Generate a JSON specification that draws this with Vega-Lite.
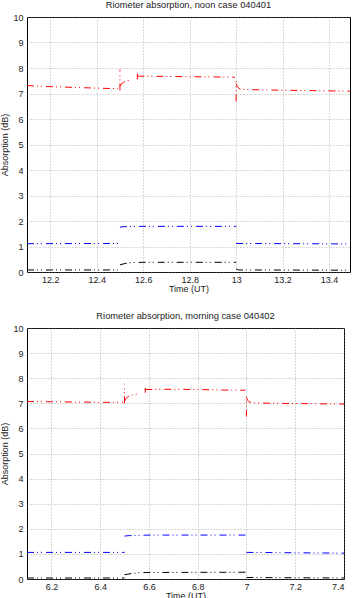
{
  "$schema": "https://vega.github.io/schema/vega-lite/v6.json",
  "padding": {"left": 0, "top": 0, "right": 0, "bottom": 0},
  "bounds": "flush",
  "spacing": 56,
  "background": "white",
  "config": {
    "font": "Liberation Sans",
    "view": {"stroke": "#000000", "strokeWidth": 1},
    "title": {"fontSize": 9.3, "fontWeight": "normal", "color": "#222222", "offset": 2.5},
    "axis": {
      "domain": false,
      "ticks": false,
      "tickSize": 0,
      "labelFontSize": 9,
      "labelColor": "#222222",
      "titleFontSize": 9,
      "titleFontWeight": "normal",
      "titleColor": "#222222",
      "grid": true,
      "gridColor": "#888888",
      "gridDash": [1, 2],
      "gridOpacity": 0.65,
      "labelPadding": 4
    },
    "axisX": {"titlePadding": 0, "labelPadding": 3},
    "axisY": {"titlePadding": 3}
  },
  "datasets": {
    "noon": [
      {"s": "r", "g": "r1", "t": 12.1, "v": 7.31},
      {"s": "r", "g": "r1", "t": 12.2, "v": 7.27},
      {"s": "r", "g": "r1", "t": 12.3, "v": 7.24},
      {"s": "r", "g": "r1", "t": 12.4, "v": 7.21},
      {"s": "r", "g": "r1", "t": 12.49, "v": 7.19},
      {"s": "r", "g": "r2", "t": 12.5, "v": 7.12},
      {"s": "r", "g": "r2", "t": 12.5, "v": 7.94},
      {"s": "r", "g": "r3", "t": 12.5, "v": 7.28},
      {"s": "r", "g": "r3", "t": 12.505, "v": 7.36},
      {"s": "r", "g": "r3", "t": 12.515, "v": 7.44},
      {"s": "r", "g": "r3", "t": 12.53, "v": 7.5},
      {"s": "r", "g": "r3", "t": 12.55, "v": 7.53},
      {"s": "r", "g": "r4", "t": 12.575, "v": 7.55},
      {"s": "r", "g": "r4", "t": 12.575, "v": 7.78},
      {"s": "r", "g": "r5", "t": 12.575, "v": 7.68},
      {"s": "r", "g": "r5", "t": 12.7, "v": 7.67},
      {"s": "r", "g": "r5", "t": 12.8, "v": 7.66},
      {"s": "r", "g": "r5", "t": 12.9, "v": 7.65},
      {"s": "r", "g": "r5", "t": 12.995, "v": 7.64},
      {"s": "r", "g": "r6", "t": 13.0, "v": 6.69},
      {"s": "r", "g": "r6", "t": 13.0, "v": 7.48},
      {"s": "r", "g": "r7", "t": 13.0, "v": 7.38},
      {"s": "r", "g": "r7", "t": 13.005, "v": 7.28},
      {"s": "r", "g": "r7", "t": 13.012, "v": 7.2},
      {"s": "r", "g": "r7", "t": 13.025, "v": 7.16},
      {"s": "r", "g": "r7", "t": 13.06, "v": 7.15},
      {"s": "r", "g": "r7", "t": 13.2, "v": 7.13},
      {"s": "r", "g": "r7", "t": 13.35, "v": 7.11},
      {"s": "r", "g": "r7", "t": 13.49, "v": 7.09},
      {"s": "b", "g": "b1", "t": 12.1, "v": 1.11},
      {"s": "b", "g": "b1", "t": 12.5, "v": 1.12},
      {"s": "b", "g": "b2", "t": 12.5, "v": 1.76},
      {"s": "b", "g": "b2", "t": 12.52, "v": 1.78},
      {"s": "b", "g": "b2", "t": 12.6, "v": 1.79},
      {"s": "b", "g": "b2", "t": 13.0, "v": 1.79},
      {"s": "b", "g": "b3", "t": 13.0, "v": 1.12},
      {"s": "b", "g": "b3", "t": 13.49, "v": 1.1},
      {"s": "k", "g": "k1", "t": 12.1, "v": 0.08},
      {"s": "k", "g": "k1", "t": 12.49, "v": 0.08},
      {"s": "k", "g": "k2", "t": 12.5, "v": 0.28},
      {"s": "k", "g": "k2", "t": 12.52, "v": 0.33},
      {"s": "k", "g": "k2", "t": 12.55, "v": 0.37},
      {"s": "k", "g": "k2", "t": 12.6, "v": 0.38},
      {"s": "k", "g": "k2", "t": 13.0, "v": 0.38},
      {"s": "k", "g": "k3", "t": 13.0, "v": 0.12},
      {"s": "k", "g": "k3", "t": 13.01, "v": 0.08},
      {"s": "k", "g": "k3", "t": 13.49, "v": 0.07}
    ],
    "morning": [
      {"s": "r", "g": "r1", "t": 6.1, "v": 7.07},
      {"s": "r", "g": "r1", "t": 6.2, "v": 7.06},
      {"s": "r", "g": "r1", "t": 6.3, "v": 7.05},
      {"s": "r", "g": "r1", "t": 6.4, "v": 7.04},
      {"s": "r", "g": "r1", "t": 6.495, "v": 7.04},
      {"s": "r", "g": "r2", "t": 6.5, "v": 7.0},
      {"s": "r", "g": "r2", "t": 6.5, "v": 7.78},
      {"s": "r", "g": "r3", "t": 6.5, "v": 7.08},
      {"s": "r", "g": "r3", "t": 6.505, "v": 7.18},
      {"s": "r", "g": "r3", "t": 6.515, "v": 7.27},
      {"s": "r", "g": "r3", "t": 6.53, "v": 7.33},
      {"s": "r", "g": "r3", "t": 6.56, "v": 7.38},
      {"s": "r", "g": "r4", "t": 6.585, "v": 7.42},
      {"s": "r", "g": "r4", "t": 6.585, "v": 7.62},
      {"s": "r", "g": "r5", "t": 6.585, "v": 7.55},
      {"s": "r", "g": "r5", "t": 6.7, "v": 7.56},
      {"s": "r", "g": "r5", "t": 6.8, "v": 7.55},
      {"s": "r", "g": "r5", "t": 6.9, "v": 7.53},
      {"s": "r", "g": "r5", "t": 6.995, "v": 7.52},
      {"s": "r", "g": "r6", "t": 7.0, "v": 6.47},
      {"s": "r", "g": "r6", "t": 7.0, "v": 7.27},
      {"s": "r", "g": "r7", "t": 7.0, "v": 7.22},
      {"s": "r", "g": "r7", "t": 7.005, "v": 7.12},
      {"s": "r", "g": "r7", "t": 7.012, "v": 7.05},
      {"s": "r", "g": "r7", "t": 7.03, "v": 7.02},
      {"s": "r", "g": "r7", "t": 7.1, "v": 7.0},
      {"s": "r", "g": "r7", "t": 7.2, "v": 6.99},
      {"s": "r", "g": "r7", "t": 7.3, "v": 6.98},
      {"s": "r", "g": "r7", "t": 7.4, "v": 6.97},
      {"s": "b", "g": "b1", "t": 6.1, "v": 1.06},
      {"s": "b", "g": "b1", "t": 6.5, "v": 1.06},
      {"s": "b", "g": "b2", "t": 6.5, "v": 1.71},
      {"s": "b", "g": "b2", "t": 6.52, "v": 1.73},
      {"s": "b", "g": "b2", "t": 6.6, "v": 1.75},
      {"s": "b", "g": "b2", "t": 7.0, "v": 1.75},
      {"s": "b", "g": "b3", "t": 7.0, "v": 1.06},
      {"s": "b", "g": "b3", "t": 7.4, "v": 1.03},
      {"s": "k", "g": "k1", "t": 6.1, "v": 0.04},
      {"s": "k", "g": "k1", "t": 6.5, "v": 0.04},
      {"s": "k", "g": "k2", "t": 6.5, "v": 0.17},
      {"s": "k", "g": "k2", "t": 6.53, "v": 0.22},
      {"s": "k", "g": "k2", "t": 6.56, "v": 0.25},
      {"s": "k", "g": "k2", "t": 6.6, "v": 0.26},
      {"s": "k", "g": "k2", "t": 7.0, "v": 0.27},
      {"s": "k", "g": "k3", "t": 7.0, "v": 0.06},
      {"s": "k", "g": "k3", "t": 7.4, "v": 0.04}
    ]
  },
  "vconcat": [
    {
      "title": "Riometer absorption, noon case 040401",
      "width": 323,
      "height": 255,
      "data": {"name": "noon"},
      "mark": {"type": "line", "strokeWidth": 1, "strokeDash": [7, 3, 1, 3, 1, 4], "clip": true},
      "encoding": {
        "x": {
          "field": "t", "type": "quantitative", "title": "Time (UT)",
          "scale": {"domain": [12.1, 13.49], "nice": false, "zero": false},
          "axis": {"values": [12.2, 12.4, 12.6, 12.8, 13.0, 13.2, 13.4], "format": ".1~f"}
        },
        "y": {
          "field": "v", "type": "quantitative", "title": "Absorption (dB)",
          "scale": {"domain": [0, 10], "nice": false},
          "axis": {"values": [0, 1, 2, 3, 4, 5, 6, 7, 8, 9, 10]}
        },
        "color": {
          "field": "s", "type": "nominal", "legend": null,
          "scale": {"domain": ["r", "b", "k"], "range": ["#ff0000", "#0000ff", "#000000"]}
        },
        "detail": {"field": "g"}
      }
    },
    {
      "title": "Riometer absorption, morning case 040402",
      "width": 317,
      "height": 251,
      "data": {"name": "morning"},
      "mark": {"type": "line", "strokeWidth": 1, "strokeDash": [7, 3, 1, 3, 1, 4], "clip": true},
      "encoding": {
        "x": {
          "field": "t", "type": "quantitative", "title": "Time (UT)",
          "scale": {"domain": [6.1, 7.4], "nice": false, "zero": false},
          "axis": {"values": [6.2, 6.4, 6.6, 6.8, 7.0, 7.2, 7.4], "format": ".1~f"}
        },
        "y": {
          "field": "v", "type": "quantitative", "title": "Absorption (dB)",
          "scale": {"domain": [0, 10], "nice": false},
          "axis": {"values": [0, 1, 2, 3, 4, 5, 6, 7, 8, 9, 10]}
        },
        "color": {
          "field": "s", "type": "nominal", "legend": null,
          "scale": {"domain": ["r", "b", "k"], "range": ["#ff0000", "#0000ff", "#000000"]}
        },
        "detail": {"field": "g"}
      }
    }
  ]
}
